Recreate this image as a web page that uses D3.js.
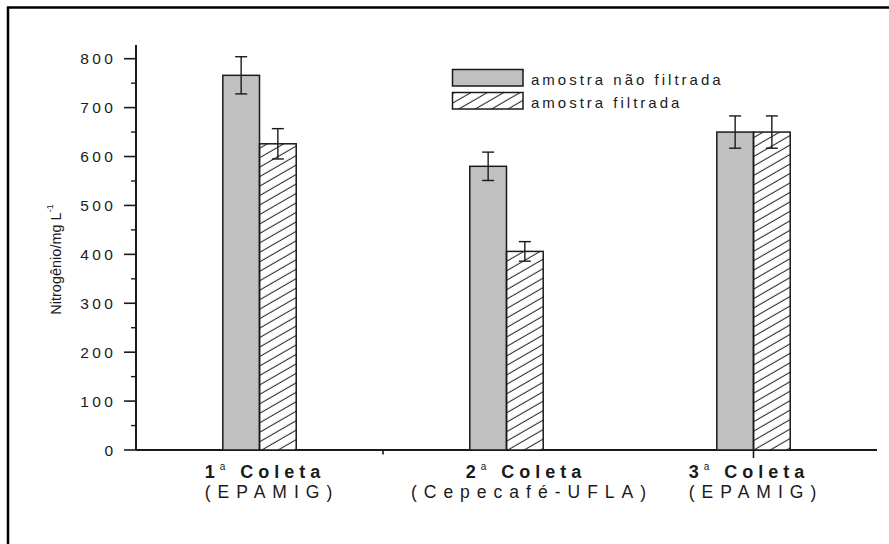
<!DOCTYPE html>
<html>
<head>
<meta charset="utf-8">
<script src="https://cdn.jsdelivr.net/npm/d3@7"></script>
<style>
  html, body { margin: 0; padding: 0; background: #fff; overflow: hidden; }
  svg { display: block; font-family: "Liberation Sans", Arial, sans-serif; }
</style>
</head>
<body>
<svg id="chart" width="889" height="544"></svg>
<script>
// Nitrogen content per sampling campaign, unfiltered vs filtered sample
const collectionNumbers = ["1", "2", "3"];
const collectionSites = ["(EPAMIG)", "(Cepecafé-UFLA)", "(EPAMIG)"];
const unfilteredValues = [766, 580, 650];
const unfilteredErrors = [38, 29, 33];
const filteredValues = [626, 406, 650];
const filteredErrors = [31, 20, 33];
const seriesNames = ["amostra não filtrada", "amostra filtrada"];
const yTickValues = [0, 100, 200, 300, 400, 500, 600, 700, 800];
const yMinorValues = [50, 150, 250, 350, 450, 550, 650, 750];

const svg = d3.select("#chart");
const ink = "#1a1a1a";

// page frame (top and left edges fall inside the page)
svg.append("path")
  .attr("d", "M8,544 L8,7.5 L889,7.5")
  .attr("fill", "none").attr("stroke", "#000").attr("stroke-width", 2.5);

// hatch pattern for the filtered sample
const defs = svg.append("defs");
defs.append("pattern")
  .attr("id", "hatch")
  .attr("patternUnits", "userSpaceOnUse")
  .attr("width", 8.2).attr("height", 8.2)
  .attr("patternTransform", "rotate(-30)")
  .append("line")
  .attr("x1", -1).attr("x2", 10).attr("y1", 4).attr("y2", 4)
  .attr("stroke", ink).attr("stroke-width", 1);

const x = d3.scaleLinear().domain([0.5, 3.5]).range([136, 877]);
const y = d3.scaleLinear().domain([0, 828]).range([450, 45]);
const barW = x(1.1486) - x(1);

// y axis: line, major and minor ticks, spaced digits
const gy = svg.append("g");
gy.append("line").attr("x1", x(0.5)).attr("x2", x(0.5))
  .attr("y1", y(828)).attr("y2", y(0))
  .attr("stroke", ink).attr("stroke-width", 2);
gy.selectAll("line.maj").data(yTickValues).join("line").attr("class", "maj")
  .attr("x1", x(0.5) - 12).attr("x2", x(0.5))
  .attr("y1", d => y(d)).attr("y2", d => y(d))
  .attr("stroke", ink).attr("stroke-width", 1.6);
gy.selectAll("line.min").data(yMinorValues).join("line").attr("class", "min")
  .attr("x1", x(0.5) - 5).attr("x2", x(0.5))
  .attr("y1", d => y(d)).attr("y2", d => y(d))
  .attr("stroke", ink).attr("stroke-width", 1.4);
gy.selectAll("text").data(yTickValues).join("text")
  .attr("x", x(0.5) - 23 + 3.5).attr("y", d => y(d) + 5.5)
  .attr("text-anchor", "end")
  .attr("font-size", 15.5).attr("letter-spacing", 3.5)
  .attr("fill", ink)
  .text(d => d);

// y axis title
const title = svg.append("text")
  .attr("transform", `translate(61,${(y(0) + y(828)) / 2 + 12}) rotate(-90)`)
  .attr("text-anchor", "middle")
  .attr("font-size", 14.5).attr("fill", ink);
title.append("tspan").text("Nitrogênio/mg L");
title.append("tspan").attr("font-size", 9).attr("dy", -8).text("-1");

// x axis
const gx = svg.append("g");
gx.append("line").attr("x1", x(0.5)).attr("x2", x(3.5))
  .attr("y1", y(0)).attr("y2", y(0))
  .attr("stroke", ink).attr("stroke-width", 2);
gx.append("line").attr("x1", x(1.5)).attr("x2", x(1.5))
  .attr("y1", y(0)).attr("y2", y(0) + 4.5)
  .attr("stroke", ink).attr("stroke-width", 1.6);
gx.append("line").attr("x1", x(3)).attr("x2", x(3))
  .attr("y1", y(0)).attr("y2", y(0) + 8)
  .attr("stroke", ink).attr("stroke-width", 1.6);

// bars
const groups = collectionNumbers.map((c, i) => ({
  i,
  center: x(i + 1),
  bars: [
    { v: unfilteredValues[i], e: unfilteredErrors[i], offset: -1, fill: "#c0c0c0" },
    { v: filteredValues[i], e: filteredErrors[i], offset: 0, fill: "url(#hatch)" }
  ]
}));
const flat = groups.flatMap(g => g.bars.map(b => ({ ...b, center: g.center })));
const gb = svg.append("g");
gb.selectAll("rect").data(flat).join("rect")
  .attr("x", d => d.center + d.offset * barW)
  .attr("y", d => y(d.v))
  .attr("width", barW)
  .attr("height", d => y(0) - y(d.v))
  .attr("fill", d => d.fill)
  .attr("stroke", ink).attr("stroke-width", 1.5);
// white backing under the hatched bars
gb.selectAll("rect.bg").data(flat.filter(d => d.offset === 0)).join("rect")
  .attr("class", "bg")
  .attr("x", d => d.center).attr("y", d => y(d.v))
  .attr("width", barW).attr("height", d => y(0) - y(d.v))
  .attr("fill", "#fff").lower();

// error bars
const ge = svg.append("g").attr("stroke", ink).attr("stroke-width", 1.4);
flat.forEach(d => {
  const cx = d.center + d.offset * barW + barW / 2;
  ge.append("line").attr("x1", cx).attr("x2", cx)
    .attr("y1", y(d.v + d.e)).attr("y2", y(d.v - d.e));
  [d.v + d.e, d.v - d.e].forEach(v => {
    ge.append("line").attr("x1", cx - 6).attr("x2", cx + 6)
      .attr("y1", y(v)).attr("y2", y(v));
  });
});

// x category labels
const labelNudge = [[3, 9], [17, 22], [-7, -1]];
collectionNumbers.forEach((n, i) => {
  const cx = x(i + 1);
  const t1 = svg.append("text")
    .attr("x", cx + labelNudge[i][0] + 2.5).attr("y", 478)
    .attr("text-anchor", "middle")
    .attr("font-size", 18).attr("font-weight", "bold")
    .attr("letter-spacing", 5).attr("fill", ink);
  t1.append("tspan").text(n);
  t1.append("tspan").attr("font-size", 10).attr("font-weight", "normal")
    .attr("dy", -8).text("a");
  t1.append("tspan").attr("dy", 8).text(" Coleta");
  svg.append("text")
    .attr("x", cx + labelNudge[i][1] + 3.5).attr("y", 498)
    .attr("text-anchor", "middle")
    .attr("font-size", 17.5).attr("letter-spacing", 7)
    .attr("fill", ink)
    .text(collectionSites[i]);
});

// legend
const legend = svg.append("g");
const legendFills = ["#c0c0c0", "url(#hatch)"];
seriesNames.forEach((name, i) => {
  const yy = 69.5 + i * 23;
  legend.append("rect").attr("x", 452.5).attr("y", yy)
    .attr("width", 70.5).attr("height", 16.5)
    .attr("fill", "#fff").attr("stroke", "none");
  legend.append("rect").attr("x", 452.5).attr("y", yy)
    .attr("width", 70.5).attr("height", 16.5)
    .attr("fill", legendFills[i]).attr("stroke", ink).attr("stroke-width", 1.5);
  legend.append("text").attr("x", 531).attr("y", yy + 15)
    .attr("font-size", 15).attr("letter-spacing", 3)
    .attr("fill", ink).text(name);
});
</script>
</body>
</html>
